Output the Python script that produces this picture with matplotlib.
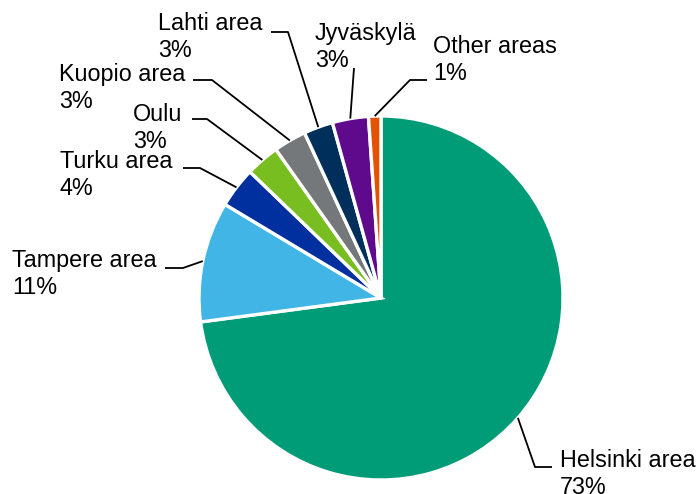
import numpy as np
import matplotlib
matplotlib.use("Agg")
import matplotlib.pyplot as plt

plt.rcParams['font.family'] = ['Liberation Sans', 'DejaVu Sans']

# ---- data ----
categories = ["Helsinki area", "Tampere area", "Turku area", "Oulu",
              "Kuopio area", "Lahti area", "Jyväskylä", "Other areas"]
shares = [72.9, 10.7, 3.6, 3.0, 2.9, 2.6, 3.2, 1.1]
pct_labels = ["73%", "11%", "4%", "3%", "3%", "3%", "3%", "1%"]

# ---- styles ----
colors = ["#009B77", "#41B6E6", "#0030A0", "#78BE20",
          "#75787B", "#002F5C", "#5F0A8C", "#E35205"]

W, H = 698, 494
fig = plt.figure(figsize=(W / 100, H / 100), dpi=100)
ax = fig.add_axes([0, 0, 1, 1])

cx, cy, R = 381, 298, 182  # pixel coords, top origin

wedges, _ = ax.pie(shares, colors=colors, startangle=90, counterclock=False,
                   center=(cx, H - cy), radius=R,
                   wedgeprops=dict(edgecolor="white", linewidth=2.4))
ax.set_xlim(0, W)
ax.set_ylim(0, H)
ax.set_aspect('equal')
ax.axis('off')

# label layout (pixel coords, top origin): text left x, first-line baseline y,
# leader elbow, leader end
LINE = 26.7
text_pos = [(560, 467), (12, 267), (60, 168), (133, 121),
            (59, 81.5), (158, 30), (315, 40), (433, 53)]
elbows = [(535, 467), (183, 268), (200, 168), (207, 119),
          (212, 80), (288, 32), (354, 68), (410, 80)]
ends = [(552, 467), (165, 268), (183, 168), (192, 119),
        (193, 80), (271, 32), (354, 68), (427, 80)]

for w, name, pct, tp, el, en in zip(wedges, categories, pct_labels,
                                   text_pos, elbows, ends):
    mid = np.deg2rad((w.theta1 + w.theta2) / 2)
    sx = cx + R * np.cos(mid)
    sy = H - cy + R * np.sin(mid)
    ax.plot([sx, el[0], en[0]], [sy, H - el[1], H - en[1]],
            color="black", lw=1.3, solid_capstyle="butt", clip_on=False)
    ax.text(tp[0], H - tp[1], name, fontsize=16.8,
            ha="left", va="baseline", color="black")
    ax.text(tp[0], H - tp[1] - LINE, pct, fontsize=16.8,
            ha="left", va="baseline", color="black")

fig.savefig("out.png", dpi=100)
